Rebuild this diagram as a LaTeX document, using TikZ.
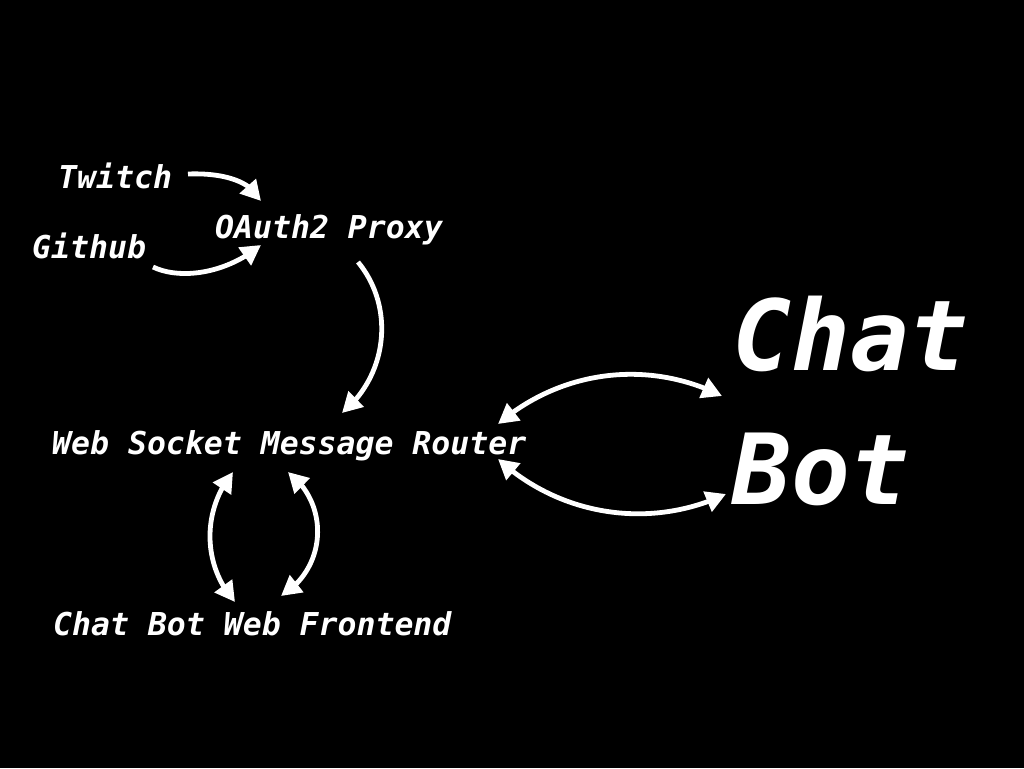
\documentclass[tikz,border=0pt]{standalone}
\usepackage{fontspec}
\setmonofont{DejaVu Sans Mono}
\usetikzlibrary{arrows.meta,bending}
\begin{document}
\begin{tikzpicture}[x=1pt,y=-1pt,
  lbl/.style={anchor=base west,inner sep=0pt,text=white,font=\ttfamily\bfseries\itshape\fontsize{31.5}{36}\selectfont},
  big/.style={anchor=base west,inner sep=0pt,text=white,font=\ttfamily\bfseries\itshape\fontsize{98}{100}\selectfont},
  tipa/.tip={Triangle[length=20pt,width=21pt]},
  conn/.style={draw=white,line width=4.8pt,-tipa},
  conn2/.style={draw=white,line width=4.8pt,tipa-tipa}]
\fill[black] (0,0) rectangle (1024,768);
\useasboundingbox (0,0) rectangle (1024,768);
\node[lbl] (tw) at (58,188) {Twitch};
\node[lbl] (gh) at (32,258) {Github};
\node[lbl] (oa) at (215,238) {OAuth2 Proxy};
\node[lbl] (ws) at (52,454) {Web Socket Message Router};
\node[lbl] (fe) at (53,635) {Chat Bot Web Frontend};
\node[big] (cb) at (732,370) {Chat};
\node[big] (bt) at (732,504) {Bot};
% connector end points
\coordinate (tw-o) at (188,174);
\coordinate (oa-t) at (261,201);
\coordinate (gh-o) at (153,267);
\coordinate (oa-g) at (261,245);
\coordinate (oa-o) at (358,262);
\coordinate (ws-i) at (342,413);
\coordinate (ws-c) at (498,424);
\coordinate (cb-i) at (722,396);
\coordinate (ws-b) at (498,459);
\coordinate (bt-i) at (726,494);
\coordinate (ws-l) at (233,472);
\coordinate (fe-l) at (235,602);
\coordinate (ws-r) at (288,472);
\coordinate (fe-r) at (281,596);
\draw[conn] (tw-o) .. controls (214,173) and (249,177) .. (oa-t);
\draw[conn] (gh-o) .. controls (180,280) and (226,274) .. (oa-g);
\draw[conn] (oa-o) .. controls (395,307) and (388,375) .. (ws-i);
\draw[conn2] (ws-c) .. controls (561,370) and (648,359) .. (cb-i);
\draw[conn2] (ws-b) .. controls (560,516) and (650,530) .. (bt-i);
\draw[conn2] (ws-l) .. controls (202,510) and (202,565) .. (fe-l);
\draw[conn2] (ws-r) .. controls (330,504) and (327,568) .. (fe-r);
\end{tikzpicture}
\end{document}
